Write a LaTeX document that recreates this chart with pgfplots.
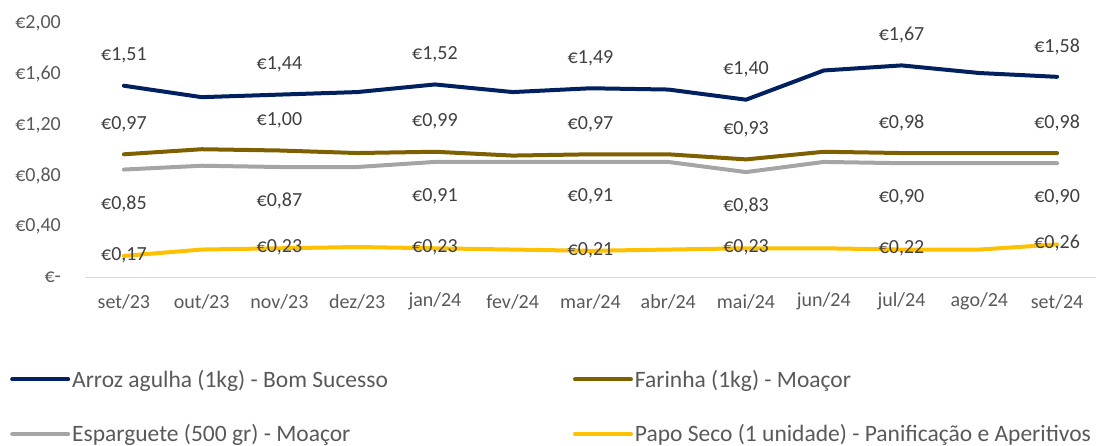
\documentclass[border=0pt]{standalone}
\usepackage{pgfplots}
\pgfplotsset{compat=1.18}
\usepackage{pgfplotstable}
\usepackage{fontspec}
\setmainfont{Carlito}

\definecolor{arroz}{HTML}{002060}
\definecolor{farinha}{HTML}{7F6000}
\definecolor{esparguete}{HTML}{A5A5A5}
\definecolor{papo}{HTML}{FFC000}
\definecolor{txt}{HTML}{595959}
\definecolor{lbl}{HTML}{404040}

% monthly prices (EUR)
\pgfplotstableread{
x a f e p
0 1.51 0.97 0.85 0.17
1 1.42 1.01 0.88 0.22
2 1.44 1.00 0.87 0.23
3 1.46 0.98 0.87 0.24
4 1.52 0.99 0.91 0.23
5 1.46 0.96 0.91 0.22
6 1.49 0.97 0.91 0.21
7 1.48 0.97 0.91 0.22
8 1.40 0.93 0.83 0.23
9 1.63 0.99 0.91 0.23
10 1.67 0.98 0.90 0.22
11 1.61 0.98 0.90 0.22
12 1.58 0.98 0.90 0.26
}\prices

\newcommand{\bigfont}{\fontsize{20}{24}\selectfont}
\newcommand{\legfont}{\fontsize{23.5}{28}\selectfont}
\pgfplotsset{
  lbl/.style={draw=none, mark=none, forget plot, each nth point=2,
    point meta=y,
    nodes near coords={€\pgfmathprintnumber[fixed, fixed zerofill, precision=2, use comma, assume math mode=true]{\pgfplotspointmeta}},
    nodes near coords style={font=\bigfont, text=lbl, anchor=center, yshift=#1}},
  ln/.style={line width=4pt, line cap=round, line join=round, mark=none, color=#1},
}

\begin{document}
\begin{tikzpicture}
\useasboundingbox (0,0) rectangle (1104pt,446pt);
\begin{axis}[
    at={(85pt,168.5pt)}, anchor=south west,
    scale only axis, width=1011pt, height=254pt,
    xmin=-0.5, xmax=12.5, ymin=0, ymax=2,
    axis x line*=bottom, axis y line*=left,
    x axis line style={draw=black!15, line width=1.2pt},
    y axis line style={draw=none},
    tick style={draw=none},
    xtick={0,...,12},
    xticklabels={set/23,out/23,nov/23,dez/23,jan/24,fev/24,mar/24,abr/24,mai/24,jun/24,jul/24,ago/24,set/24},
    ytick={0,0.4,0.8,1.2,1.6,2},
    yticklabels={{€-\hspace{9pt}},{€0,40},{€0,80},{€1,20},{€1,60},{€2,00}},
    xticklabel style={font=\bigfont, text=txt, anchor=center, yshift=-24pt},
    yticklabel style={font=\bigfont, text=txt, anchor=east, inner sep=0pt, xshift=-24pt},
    clip=false,
    legend columns=2,
    legend cell align=left,
    legend image code/.code={\draw[#1, line width=4pt, line cap=round] (0pt,0pt) -- (56pt,0pt);},
    legend style={at={(-0.0742,-0.356)}, anchor=north west, draw=none, fill=none,
      font=\legfont, text=txt, row sep=32pt, inner sep=0pt,
      nodes={inner sep=2pt},
      /tikz/every even column/.append style={column sep=183pt}},
]
\addplot[ln=arroz] table[x=x,y=a]{\prices};
\addplot[lbl=30pt] table[x=x,y=a]{\prices};
\addplot[ln=farinha] table[x=x,y=f]{\prices};
\addplot[lbl=30pt] table[x=x,y=f]{\prices};
\addplot[ln=esparguete] table[x=x,y=e]{\prices};
\addplot[lbl=-34pt] table[x=x,y=e]{\prices};
\addplot[ln=papo] table[x=x,y=p]{\prices};
\addplot[lbl=1pt] table[x=x,y=p]{\prices};
\legend{Arroz agulha (1kg) - Bom Sucesso, Farinha (1kg) - Moaçor, Esparguete (500 gr) - Moaçor, Papo Seco (1 unidade) - Panificação e Aperitivos}
\end{axis}
\end{tikzpicture}
\end{document}
